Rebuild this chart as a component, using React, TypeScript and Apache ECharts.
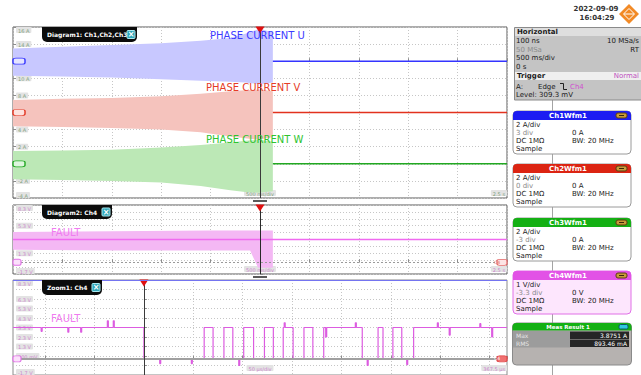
import React, { useEffect, useRef } from "react";
import * as echarts from "echarts";

// ---------- Diagram 1: phase currents Ch1..Ch3 (A) vs time (s) ----------
const D1_T = [-2.5, -2.0, -1.5, -1.0, -0.6, -0.3, -0.15, 0.0, 0.06, 0.13];
const CH1_MAX = [1.5, 1.7, 1.9, 2.1, 2.4, 2.7, 3.2, 3.8, 3.6, 3.4];
const CH1_MIN = [-1.7, -1.8, -1.9, -2.1, -2.3, -2.4, -2.5, -2.7, -2.6, -2.5];
const CH2_MAX = [1.45, 1.6, 1.7, 1.9, 2.2, 2.5, 2.6, 2.7, 2.6, 2.5];
const CH2_MIN = [-1.6, -1.7, -1.8, -2.0, -2.3, -2.8, -3.0, -3.2, -3.0, -2.9];
const CH3_MAX = [1.5, 1.55, 1.65, 1.9, 2.2, 2.5, 2.7, 2.8, 2.7, 2.6];
const CH3_MIN = [-1.8, -1.9, -2.0, -2.2, -2.6, -3.1, -3.3, -3.4, -3.3, -3.2];
const FLAT_T = [0.13, 2.5];
const FLAT_A = [0, 0];

// ---------- Diagram 2: Ch4 fault signal (V) vs time (s) ----------
const D2_T = [-2.5, -1.5, -0.5, -0.1, -0.02, 0.13];
const CH4_MAX = [4.4, 4.5, 4.6, 4.6, 4.6, 4.6];
const CH4_MIN = [1.8, 1.7, 1.7, 1.7, -0.8, -0.8];
const CH4_LINE_T = [-2.5, 2.5];
const CH4_LINE_V = [3.3, 3.3];

// ---------- Zoom1: Ch4 (V) vs time (µs) ----------
const Z_T = [-132.5, -104, -103, -77, -76, -64, -63, -37, -36, -31, -30, 0, 16, 17, 48, 49, 61, 70, 81, 90, 96, 97, 101, 111, 122, 131, 141, 142, 143, 151, 162, 171, 182, 184, 185, 214, 215, 221, 226, 227, 237, 242, 252, 261, 266, 267, 273, 297, 298, 309, 310, 340, 341, 352, 353, 367.5];
const Z_V = [3.3, 2.9, 3.3, 2.8, 3.3, 2.8, 3.3, 4.0, 3.3, 4.0, 3.3, 0, -0.5, 0, -0.5, 0, 3.3, 0, 3.3, 0, -0.7, 0, 3.3, 0, 3.3, 0, 3.3, 3.8, 3.3, 0, 3.3, 0, 3.3, 2.3, 3.3, 3.8, 3.3, 0, -0.7, 0, 3.3, 0, 3.3, 0, -0.6, 0, 3.3, 3.8, 3.3, 2.5, 3.3, 3.7, 3.3, 2.3, 3.3, 3.3];

// ---------- tick labels ----------
const D1_Y_LABELS = ["-4 A", "-2 A", "0 A", "2 A", "4 A", "6 A", "8 A", "10 A", "12 A", "14 A", "16 A"];
const D2_Y_LABELS = ["-1.7 V", "", "", "1.3 V", "", "3.3 V", "", "5.3 V", "", "", "8.3 V"];
const Z_Y_LABELS = ["-1.7 V", "", "300 mV", "1.3 V", "2.3 V", "3.3 V", "4.3 V", "5.3 V", "6.3 V", "", "8.3 V"];
const D_X_LABELS = ["", "", "", "", "", "500 ms/div", "", "", "", "", "2.5 s"];
const Z_X_LABEL_AT = [117.5, 367.5];
const Z_X_LABELS = ["50 µs/div", "367.5 µs"];

const FONT = "DejaVu Sans";

const zip = (a: number[], b: number[]) => a.map((v, i) => [v, b[i]]);

function labelFmt(arr: string[], min: number, step: number) {
  return (v: number) => {
    const s = arr[Math.round((v - min) / step)];
    return s ? `{b|${s}}` : "";
  };
}
function rich(color: string) {
  return {
    b: {
      color,
      backgroundColor: "#e3e3e3",
      fontSize: 5,
      fontFamily: FONT,
      padding: [1, 2, 0, 2],
      borderRadius: 1,
    },
  };
}
const splitLine = { show: true, lineStyle: { color: "#c6c6c6", type: [1, 2], width: 1 } };
const tick = { show: true, inside: true, length: 3, lineStyle: { color: "#8c8c8c" } };

function bandSeries(t: number[], lo: number[], hi: number[], xi: number, yi: number, color: string) {
  return {
    type: "custom",
    xAxisIndex: xi,
    yAxisIndex: yi,
    silent: true,
    z: 1,
    data: t.map((v, i) => [v, lo[i], hi[i]]),
    encode: { x: 0, y: [1, 2] },
    renderItem: (params: any, api: any) => {
      if (params.dataIndex !== 0) return null;
      const pts: number[][] = [];
      for (let i = 0; i < t.length; i++) pts.push(api.coord([t[i], hi[i]]));
      for (let i = t.length - 1; i >= 0; i--) pts.push(api.coord([t[i], lo[i]]));
      return { type: "polygon", shape: { points: pts }, style: { fill: color } };
    },
  };
}

const tri = (coord: number[]) => ({
  coord,
  symbol: "triangle",
  symbolRotate: 180,
  symbolSize: [9, 7],
  symbolOffset: [0, 3],
  itemStyle: { color: "#e01010" },
  label: { show: false },
});
const bar = (coord: number[]) => ({
  coord,
  symbol: "rect",
  symbolSize: [14, 2],
  symbolOffset: [0, 3],
  itemStyle: { color: "#5a5a5a" },
  label: { show: false },
});
const chMark = (coord: number[], text: string, fill: string, stroke: string, txt: string, dx: number, w = 12) => ({
  coord,
  symbol: "roundRect",
  symbolSize: [w, 6],
  symbolOffset: [dx, 0],
  itemStyle: { color: fill, borderColor: stroke, borderWidth: 1 },
  label: { show: !!text, position: "inside", formatter: text, fontSize: 4.5, color: txt, fontFamily: FONT, offset: [dx, 0] },
});

function buildGraphic() {
  const g: any[] = [];
  const T = (x: number, y: number, text: string, o: any = {}) =>
    g.push({
      type: "text",
      z: 100,
      silent: true,
      x,
      y,
      style: { text, fontSize: 7, fontFamily: FONT, fill: "#1a1a1a", verticalAlign: "middle", align: "left", ...o },
    });
  const R = (x: number, y: number, w: number, h: number, fill: string, o: any = {}) =>
    g.push({
      type: "rect",
      z: o.z || 100,
      silent: true,
      shape: { x, y, width: w, height: h, r: o.r || 0 },
      style: { fill, stroke: o.stroke || null, lineWidth: o.lw || 1 },
    });

  // curve annotations
  T(210, 35, "PHASE CURRENT U", { fontSize: 10, fill: "#3c3cff" });
  T(206, 87, "PHASE CURRENT V", { fontSize: 10, fill: "#e63c28" });
  T(206, 139, "PHASE CURRENT W", { fontSize: 10, fill: "#2ec42e" });
  T(51, 232, "FAULT", { fontSize: 10, fill: "#f07cf0" });
  T(51, 318, "FAULT", { fontSize: 10, fill: "#f07cf0" });

  // zoom top border
  g.push({ type: "line", z: 100, silent: true, shape: { x1: 13, y1: 280.5, x2: 507, y2: 280.5 }, style: { stroke: "#7474f0", lineWidth: 1 } });

  // diagram tabs
  const tab = (x: number, y: number, w: number, h: number, text: string) => {
    R(x, y, w, h, "#0c0c0c", { r: [0, 0, 5, 5] });
    T(x + 5, y + h / 2, text, { fill: "#ffffff", fontSize: 6, fontWeight: "bold" });
    R(x + w - 10, y + h / 2 - 4, 8, 8, "#2fa6b8", { r: 1, stroke: "#a8e8f0" });
    T(x + w - 6, y + h / 2, "×", { fill: "#ffffff", fontSize: 8, fontWeight: "bold", align: "center" });
  };
  tab(42, 27, 95, 15, "Diagram1: Ch1,Ch2,Ch3");
  tab(42, 205, 70, 14, "Diagram2: Ch4");
  tab(42, 280, 60, 15, "Zoom1: Ch4");

  // right panel separator
  g.push({ type: "line", z: 90, silent: true, shape: { x1: 552.5, y1: 100, x2: 552.5, y2: 375 }, style: { stroke: "#a4a4a4", lineWidth: 1 } });

  // date & logo
  T(596, 9, "2022-09-09", { align: "center", fontWeight: "bold", fill: "#333" });
  T(597, 18, "16:04:29", { align: "center", fontWeight: "bold", fill: "#333" });
  g.push({ type: "polygon", z: 100, silent: true, shape: { points: [[629, 4], [639, 14], [629, 24], [619, 14]] }, style: { fill: "#f28a26" } });
  g.push({ type: "polygon", z: 101, silent: true, shape: { points: [[629, 8.5], [634.5, 14], [629, 19.5], [623.5, 14]] }, style: { fill: "none", stroke: "#ffffff", lineWidth: 1 } });
  g.push({ type: "line", z: 101, silent: true, shape: { x1: 624, y1: 14, x2: 634, y2: 14 }, style: { stroke: "#ffffff", lineWidth: 1 } });

  // Horizontal / Trigger box
  R(514.5, 27.5, 130, 72.5, "#c4c4c4", { stroke: "#8a8a8a" });
  R(515, 28, 129, 8, "#dedede");
  T(517, 32, "Horizontal", { fontWeight: "bold" });
  T(516, 41, "100 ns");
  T(639, 41, "10 MSa/s", { align: "right" });
  T(516, 49.5, "50 MSa", { fill: "#8c8c8c" });
  T(639, 49.5, "RT", { align: "right" });
  T(516, 58, "500 ms/div");
  T(516, 66.5, "0 s");
  R(515, 72, 129, 8, "#efefef");
  T(517, 76, "Trigger", { fontWeight: "bold" });
  T(639, 76, "Normal", { align: "right", fill: "#c050c0" });
  T(516, 86.5, "A:");
  T(538, 86.5, "Edge");
  g.push({ type: "polyline", z: 101, silent: true, shape: { points: [[560, 83.5], [563.5, 83.5], [563.5, 89.5], [567, 89.5]] }, style: { stroke: "#222", lineWidth: 1, fill: "none" } });
  T(570, 86.5, "Ch4", { fill: "#d050d0" });
  T(516, 95, "Level: 309.3 mV");

  // channel boxes
  const chBox = (top: number, title: string, head: string, body: string, border: string, rows: string[][]) => {
    const left = 513, w = 118, h = 43;
    R(left, top, w, h, body, { r: 4, stroke: border });
    R(left, top, w, 9, head, { r: [4, 4, 0, 0] });
    T(left + w / 2 - 4, top + 4.7, title, { fill: "#ffffff", fontWeight: "bold", align: "center" });
    R(left + w - 15, top + 2, 11, 5, "#c89a3a", { r: 2, stroke: "#5a3e10" });
    g.push({ type: "line", z: 101, silent: true, shape: { x1: left + w - 12, y1: top + 4.5, x2: left + w - 7, y2: top + 4.5 }, style: { stroke: "#3a2808", lineWidth: 1 } });
    rows.forEach((r, i) => {
      const y = top + 14 + i * 8;
      if (r[0]) T(516, y, r[0], { fill: i === 1 ? "#8a8a8a" : "#1a1a1a" });
      if (r[1]) T(572, y, r[1]);
    });
  };
  chBox(111, "Ch1Wfm1", "#1c1cf2", "#ffffff", "#9a9a9a", [["2 A/div", ""], ["3 div", "0 A"], ["DC 1MΩ", "BW: 20 MHz"], ["Sample", ""]]);
  chBox(164, "Ch2Wfm1", "#dc2412", "#ffffff", "#9a9a9a", [["2 A/div", ""], ["0 div", "0 A"], ["DC 1MΩ", "BW: 20 MHz"], ["Sample", ""]]);
  chBox(218, "Ch3Wfm1", "#14b014", "#ffffff", "#9a9a9a", [["2 A/div", ""], ["-3 div", "0 A"], ["DC 1MΩ", "BW: 20 MHz"], ["Sample", ""]]);
  chBox(271, "Ch4Wfm1", "#e252e6", "#fde6fd", "#e070e6", [["1 V/div", ""], ["-3.3 div", "0 V"], ["DC 1MΩ", "BW: 20 MHz"], ["Sample", ""]]);

  // measurement box
  R(512.5, 323, 119, 42, "#b6b2b0", { r: 4, stroke: "#8a8a8a" });
  R(512.5, 323, 119, 7.5, "#14b014", { r: [4, 4, 0, 0] });
  T(568, 326.8, "Meas Result 1", { fill: "#ffffff", fontSize: 5.5, fontWeight: "bold", align: "center" });
  R(619, 324.5, 9, 4.5, "#30c8e0", { r: 1.5, stroke: "#0a5a6a" });
  R(513, 331, 57, 16.5, "#9c9c9c");
  R(570, 331.5, 59, 7.5, "#262626");
  R(570, 339.5, 59, 7.5, "#262626");
  T(516, 335.5, "Max", { fill: "#e6e6e6", fontSize: 6 });
  T(516, 343.5, "RMS", { fill: "#e6e6e6", fontSize: 6 });
  T(627, 335.5, "3.8751 A", { fill: "#ffffff", fontSize: 6, align: "right" });
  T(627, 343.5, "893.46 mA", { fill: "#ffffff", fontSize: 6, align: "right" });
  return g;
}

function buildOption(): any {
  const green = "#7ea27e";
  const pink = "#cc86cc";
  return {
    animation: false,
    textStyle: { fontFamily: FONT },
    grid: [
      { left: 13, top: 27, width: 494, height: 171, show: true, borderColor: "#5a5a5a", borderWidth: 1, backgroundColor: "#ffffff" },
      { left: 13, top: 205, width: 494, height: 69, show: true, borderColor: "#5a5a5a", borderWidth: 1, backgroundColor: "#ffffff" },
      { left: 13, top: 280, width: 494, height: 96, show: true, borderColor: "#8a8a8a", borderWidth: 1, backgroundColor: "#ffffff" },
    ],
    xAxis: [
      {
        gridIndex: 0, type: "value", position: "bottom", min: -2.5, max: 2.5, interval: 0.5, splitLine, axisLine: { show: false }, axisTick: tick,
        axisLabel: { inside: true, margin: 2, formatter: labelFmt(D_X_LABELS, -2.5, 0.5), rich: rich(green), alignMaxLabel: "right" },
      },
      {
        gridIndex: 1, type: "value", position: "bottom", min: -2.5, max: 2.5, interval: 0.5, splitLine, axisLine: { show: false }, axisTick: tick,
        axisLabel: { inside: true, margin: 2, formatter: labelFmt(D_X_LABELS, -2.5, 0.5), rich: rich(pink), alignMaxLabel: "right" },
      },
      {
        gridIndex: 2, type: "value", position: "bottom", min: -132.5, max: 367.5, splitNumber: 10, splitLine, axisLine: { show: false }, axisTick: tick,
        axisLabel: {
          inside: true, margin: 4, customValues: Z_X_LABEL_AT, rich: rich(pink), alignMaxLabel: "right",
          formatter: (v: number) => {
            const i = Z_X_LABEL_AT.findIndex((a) => Math.abs(a - v) < 0.01);
            return i >= 0 ? `{b|${Z_X_LABELS[i]}}` : "";
          },
        },
      },
    ],
    yAxis: [
      { gridIndex: 0, type: "value", position: "left", min: -16, max: 4, show: false },
      { gridIndex: 0, type: "value", position: "left", min: -10, max: 10, show: false },
      {
        gridIndex: 0, type: "value", position: "left", min: -4, max: 16, interval: 2, splitLine, axisLine: { show: false }, axisTick: tick,
        axisLabel: { inside: true, margin: 3, formatter: labelFmt(D1_Y_LABELS, -4, 2), rich: rich(green), verticalAlignMaxLabel: "top", verticalAlignMinLabel: "bottom" },
      },
      {
        gridIndex: 1, type: "value", position: "left", min: -1.7, max: 8.3, interval: 1, splitLine, axisLine: { show: false }, axisTick: tick,
        axisLabel: { inside: true, margin: 3, formatter: labelFmt(D2_Y_LABELS, -1.7, 1), rich: rich(pink), verticalAlignMaxLabel: "top", verticalAlignMinLabel: "bottom" },
      },
      {
        gridIndex: 2, type: "value", position: "left", min: -1.7, max: 8.3, interval: 1, splitLine, axisLine: { show: false }, axisTick: tick,
        axisLabel: { inside: true, margin: 3, formatter: labelFmt(Z_Y_LABELS, -1.7, 1), rich: rich(pink), verticalAlignMaxLabel: "top", verticalAlignMinLabel: "bottom" },
      },
    ],
    series: [
      bandSeries(D1_T, CH1_MIN, CH1_MAX, 0, 0, "#c8c8ff"),
      bandSeries(D1_T, CH2_MIN, CH2_MAX, 0, 1, "#f5c3bd"),
      bandSeries(D1_T, CH3_MIN, CH3_MAX, 0, 2, "#bce8b6"),
      {
        type: "line", xAxisIndex: 0, yAxisIndex: 0, data: zip(FLAT_T, FLAT_A), symbol: "none", silent: true, z: 3,
        lineStyle: { color: "#3434ff", width: 1.5 },
        markPoint: { silent: true, data: [chMark([-2.5, 0], "", "#e4e4ff", "#3434ff", "#3434ff", 6)] },
      },
      {
        type: "line", xAxisIndex: 0, yAxisIndex: 1, data: zip(FLAT_T, FLAT_A), symbol: "none", silent: true, z: 3,
        lineStyle: { color: "#e2321e", width: 1.5 },
        markPoint: { silent: true, data: [chMark([-2.5, 0], "", "#fde2de", "#e2321e", "#e2321e", 6)] },
      },
      {
        type: "line", xAxisIndex: 0, yAxisIndex: 2, data: zip(FLAT_T, FLAT_A), symbol: "none", silent: true, z: 3,
        lineStyle: { color: "#22a822", width: 1.5 },
        markLine: { silent: true, symbol: ["none", "none"], label: { show: false }, data: [{ xAxis: 0, lineStyle: { color: "#3a3a3a", width: 1, type: "solid" } }] },
        markPoint: { silent: true, data: [chMark([-2.5, 0], "", "#def6de", "#22a822", "#22a822", 6), tri([0, 16]), bar([0, -4])] },
      },
      bandSeries(D2_T, CH4_MIN, CH4_MAX, 1, 3, "#f4b8f4"),
      {
        type: "line", xAxisIndex: 1, yAxisIndex: 3, data: zip(CH4_LINE_T, CH4_LINE_V), symbol: "none", silent: true, z: 3,
        lineStyle: { color: "#f06af0", width: 1.5 },
        markLine: {
          silent: true, symbol: ["none", "none"], label: { show: false },
          data: [
            { xAxis: 0, lineStyle: { color: "#2a2a2a", width: 1, type: "solid" } },
            { yAxis: 0, lineStyle: { color: "#9a9a9a", width: 1, type: [2, 2] } },
          ],
        },
        markPoint: {
          silent: true,
          data: [chMark([-2.5, 0], "", "#fbe0fb", "#e070e6", "#e070e6", 4, 8), chMark([2.5, 0], "C4", "#fde4e4", "#e46a6a", "#e46a6a", -5, 10), tri([0, 8.3]), bar([0, -1.7])],
        },
      },
      {
        type: "line", xAxisIndex: 2, yAxisIndex: 4, data: zip(Z_T, Z_V), step: "end", symbol: "none", silent: true, z: 3,
        lineStyle: { color: "#dc5ce0", width: 1.2 },
        markLine: {
          silent: true, symbol: ["none", "none"], label: { show: false },
          data: [
            { yAxis: 0, lineStyle: { color: "#a0a0a0", width: 2, type: "solid" } },
            { xAxis: 0, lineStyle: { color: "#3a3a3a", width: 1, type: "solid" } },
          ],
        },
        markPoint: {
          silent: true,
          data: [chMark([-132.5, 0], "", "#fbe0fb", "#e070e6", "#e070e6", 4, 8), chMark([367.5, 0], "C4", "#f07070", "#e04a4a", "#ffffff", -5, 10), tri([0, 8.3])],
        },
      },
    ],
    graphic: buildGraphic(),
  };
}

export default function App() {
  const ref = useRef<HTMLDivElement>(null);
  useEffect(() => {
    const chart = echarts.init(ref.current!, null, { renderer: "svg" });
    chart.setOption(buildOption());
    return () => chart.dispose();
  }, []);
  return (
    <div
      ref={ref}
      style={{ position: "fixed", left: 0, top: 0, width: 641, height: 375, background: "#ffffff" }}
    />
  );
}
